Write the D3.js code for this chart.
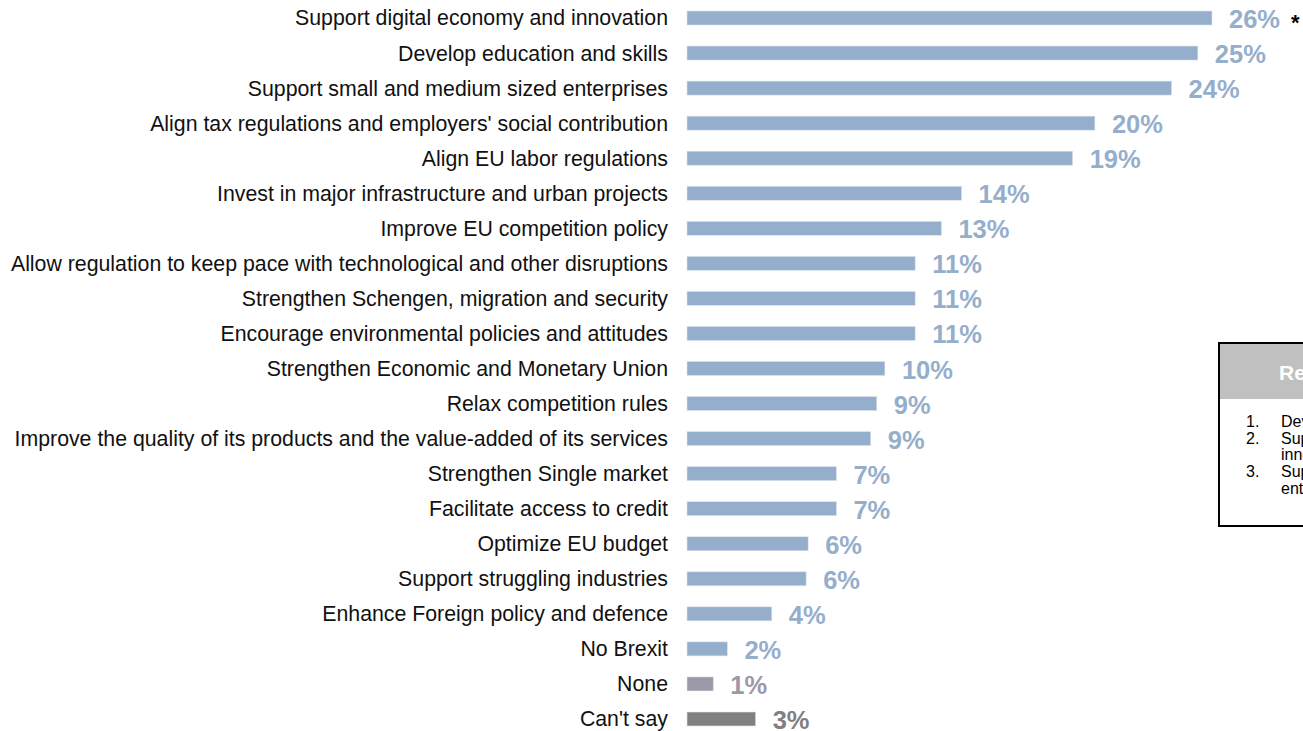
<!DOCTYPE html>
<html>
<head>
<meta charset="utf-8">
<script src="https://cdn.jsdelivr.net/npm/d3@7"></script>
<style>
  body { margin: 0; background: #fff; overflow: hidden; }
  text { font-family: Arial, "Liberation Sans", sans-serif; }
</style>
</head>
<body>
<script>
const width = 1303;
const height = 731;

// categories, top to bottom
const categories = [
	"Support digital economy and innovation",
	"Develop education and skills",
	"Support small and medium sized enterprises",
	"Align tax regulations and employers' social contribution",
	"Align EU labor regulations",
	"Invest in major infrastructure and urban projects",
	"Improve EU competition policy",
	"Allow regulation to keep pace with technological and other disruptions",
	"Strengthen Schengen, migration and security",
	"Encourage environmental policies and attitudes",
	"Strengthen Economic and Monetary Union",
	"Relax competition rules",
	"Improve the quality of its products and the value-added of its services",
	"Strengthen Single market",
	"Facilitate access to credit",
	"Optimize EU budget",
	"Support struggling industries",
	"Enhance Foreign policy and defence",
	"No Brexit",
	"None",
	"Can't say"
];

// share of respondents (%)
const values = [26.0, 25.3, 24.0, 20.2, 19.1, 13.6, 12.6, 11.3, 11.3, 11.3, 9.8, 9.4, 9.1, 7.4, 7.4, 6.0, 5.9, 4.2, 2.0, 1.3, 3.4];

// kind of answer: 0 = measure, 1 = none, 2 = can't say
const kinds = [0, 0, 0, 0, 0, 0, 0, 0, 0, 0, 0, 0, 0, 0, 0, 0, 0, 0, 0, 1, 2];

const legendTitle = "Results 2016";
const legendItems = [
	["Develop education and skills"],
	["Support digital economy and", "innovation"],
	["Support small and medium sized", "enterprises"]
];

const colors = ["#95aecb", "#9c98a7", "#808080"];

const data = categories.map((c, i) => ({ name: c, value: values[i], kind: kinds[i] }));

const svg = d3.select("body").append("svg")
	.attr("width", width)
	.attr("height", height);

const x = d3.scaleLinear()
	.domain([0, 26])
	.range([687, 1212]);

const y = d3.scalePoint()
	.domain(categories)
	.range([18, 719]);

const barH = 14;

// category labels
svg.selectAll("text.cat")
	.data(data)
	.enter()
	.append("text")
	.attr("class", "cat")
	.attr("x", 668)
	.attr("y", d => y(d.name))
	.attr("dy", "0.35em")
	.attr("text-anchor", "end")
	.attr("font-size", 21.3)
	.attr("fill", "#111")
	.text(d => d.name);

// bars
svg.selectAll("rect.bar")
	.data(data)
	.enter()
	.append("rect")
	.attr("class", "bar")
	.attr("x", x(0))
	.attr("y", d => y(d.name) - barH / 2)
	.attr("width", d => x(d.value) - x(0))
	.attr("height", barH)
	.attr("fill", d => colors[d.kind])
	.attr("stroke", "#dce4ee")
	.attr("stroke-width", 0.6);

// value labels
svg.selectAll("text.val")
	.data(data)
	.enter()
	.append("text")
	.attr("class", "val")
	.attr("x", d => x(d.value) + 17)
	.attr("y", d => y(d.name) + 10)
	.attr("font-size", 25.5)
	.attr("font-weight", "bold")
	.attr("fill", d => colors[d.kind])
	.text(d => Math.round(d.value) + "%");

// footnote mark
svg.append("text")
	.attr("x", 1291)
	.attr("y", 30)
	.attr("font-size", 22)
	.attr("font-weight", "bold")
	.attr("fill", "#000")
	.text("*");

// legend box (runs off the right edge)
const lg = svg.append("g").attr("transform", "translate(1219,343)");
lg.append("rect")
	.attr("width", 330)
	.attr("height", 183)
	.attr("fill", "#fff")
	.attr("stroke", "#000")
	.attr("stroke-width", 2);
lg.append("rect")
	.attr("x", 1)
	.attr("y", 1)
	.attr("width", 328)
	.attr("height", 55)
	.attr("fill", "#c0c0c0");
lg.append("text")
	.attr("x", 60)
	.attr("y", 37)
	.attr("font-size", 21)
	.attr("font-weight", "bold")
	.attr("fill", "#fff")
	.text(legendTitle);

let line = 0;
legendItems.forEach((item, i) => {
	lg.append("text")
		.attr("x", 27)
		.attr("y", 84 + line * 16.7)
		.attr("font-size", 16)
		.attr("fill", "#000")
		.text((i + 1) + ".");
	item.forEach(t => {
		lg.append("text")
			.attr("x", 62)
			.attr("y", 84 + line * 16.7)
			.attr("font-size", 16)
			.attr("fill", "#000")
			.text(t);
		line++;
	});
});
</script>
</body>
</html>
